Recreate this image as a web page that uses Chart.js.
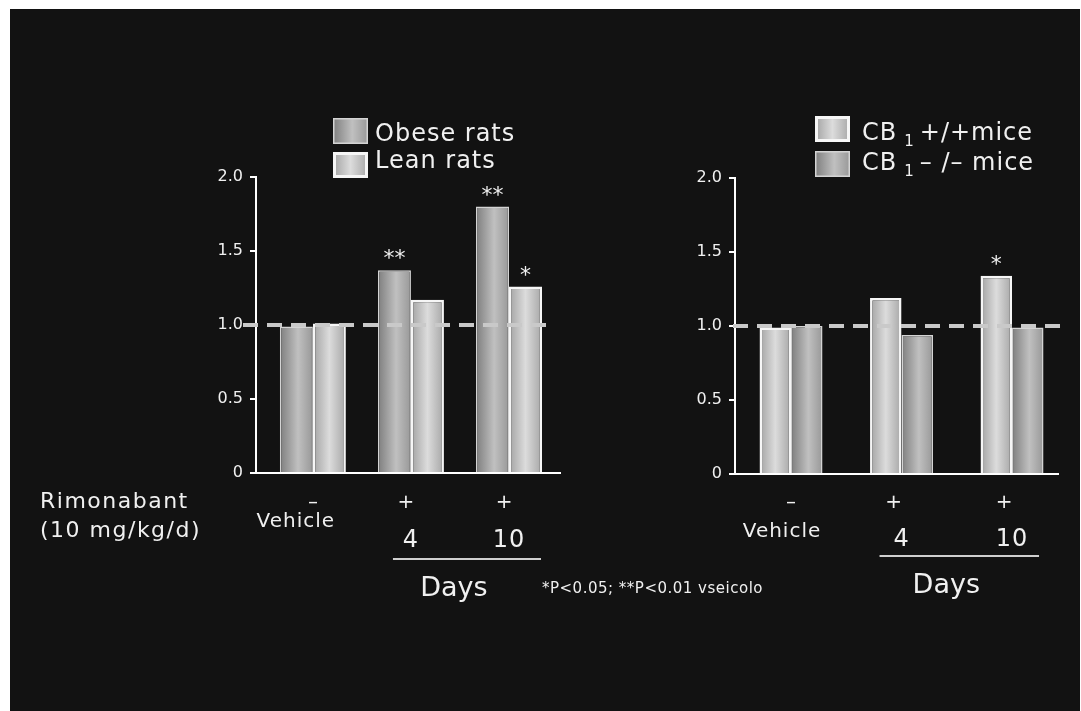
<!DOCTYPE html>
<html>
<head>
<meta charset="utf-8">
<script src="https://cdn.jsdelivr.net/npm/chart.js@4.4.1/dist/chart.umd.min.js"></script>
<style>
  html, body { margin: 0; padding: 0; width: 1081px; height: 711px; overflow: hidden; background: #ffffff; }
  #panel { position: absolute; left: 10px; top: 9px; width: 1070px; height: 702px; background: #121212; }
  canvas { position: absolute; }
  #ratsChart { left: 10px; top: 9px; width: 560px; height: 702px; }
  #miceChart { left: 540px; top: 9px; width: 540px; height: 702px; }
</style>
</head>
<body>
<div id="panel"></div>
<canvas id="ratsChart" width="560" height="702"></canvas>
<canvas id="miceChart" width="540" height="702"></canvas>
<script>
// ---- data ----
const doseMarks = ['–', '+', '+'];
const groupLabels = ['Vehicle', '4', '10'];
const yTickLabels = ['0', '0.5', '1.0', '1.5', '2.0'];
const referenceRatio = 1.0;

const ratSeries = ['Obese rats', 'Lean rats'];
const obeseRats = [0.99, 1.37, 1.80];
const leanRats = [1.01, 1.17, 1.26];
const obeseSig = ['', '**', '**'];
const leanSig = ['', '', '*'];

const mouseSeries = [['CB', '1', '+/+mice'], ['CB', '1', '– /– mice']];
const cb1WildType = [0.99, 1.19, 1.34];
const cb1Knockout = [1.00, 0.94, 0.99];
const wildTypeSig = ['', '', '*'];
const knockoutSig = ['', '', ''];

const treatmentTitle = ['Rimonabant', '(10 mg/kg/d)'];
const durationTitle = 'Days';
const footnote = '*P<0.05; **P<0.01 vseicolo';

// ---- look ----
const FONT = '"DejaVu Sans", "Liberation Sans", sans-serif';
const INK = '#f0f0f0';
const DARK = { stops: [[0, '#7e7e7e'], [0.55, '#c0c0c0'], [1, '#989898']], edge: '#d4d4d4', edgeWidth: 1.5, legendEdge: 1.5 };
const LIGHT = { stops: [[0, '#a2a2a2'], [0.5, '#dcdcdc'], [1, '#a6a6a6']], edge: '#f6f6f6', edgeWidth: 2.5, legendEdge: 3 };

function shade(ctx, x0, x1, stops) {
  const g = ctx.createLinearGradient(x0, 0, x1, 0);
  stops.forEach(([o, c]) => g.addColorStop(o, c));
  return g;
}

// cylinder-like horizontal shading across each bar
function barFill(tone) {
  return (c) => {
    const el = c.chart.getDatasetMeta(c.datasetIndex).data[c.dataIndex];
    if (!el || !Number.isFinite(el.x) || !Number.isFinite(el.width)) return tone.stops[1][1];
    return shade(c.chart.ctx, el.x - el.width / 2, el.x + el.width / 2, tone.stops);
  };
}

const panelDecor = {
  id: 'panelDecor',
  afterDatasetsDraw(chart, args, o) {
    const { ctx, chartArea: a, scales: { y } } = chart;
    const yRef = y.getPixelForValue(referenceRatio);
    ctx.save();
    ctx.strokeStyle = '#c9c9c9';
    ctx.lineWidth = 4;
    ctx.setLineDash([15, 9]);
    ctx.beginPath();
    ctx.moveTo(a.left + o.refFrom, yRef);
    ctx.lineTo(a.right + o.refTo, yRef);
    ctx.stroke();
    ctx.restore();

    ctx.save();
    ctx.fillStyle = INK;
    ctx.font = `22px ${FONT}`;
    ctx.textAlign = 'center';
    ctx.textBaseline = 'alphabetic';
    chart.data.datasets.forEach((ds, di) => {
      chart.getDatasetMeta(di).data.forEach((el, i) => {
        if (ds.sig[i]) ctx.fillText(ds.sig[i], el.x, el.y - 5);
      });
    });
    ctx.restore();
  },
  afterDraw(chart, args, o) {
    const { ctx, chartArea: a, scales: { x } } = chart;
    const cx = (i) => x.getPixelForValue(i + 1);
    ctx.save();
    ctx.fillStyle = INK;

    // legend
    chart.data.datasets.forEach((ds, k) => {
      const bx = a.left + o.legendDx, by = a.top + o.legendDy[k];
      const w = 35, h = 26, lw = ds.tone.legendEdge;
      ctx.fillStyle = shade(ctx, bx, bx + w, ds.tone.stops);
      ctx.fillRect(bx, by, w, h);
      ctx.strokeStyle = ds.tone.edge;
      ctx.lineWidth = lw;
      ctx.strokeRect(bx + lw / 2, by + lw / 2, w - lw, h - lw);
      ctx.fillStyle = INK;
      ctx.textAlign = 'left';
      ctx.textBaseline = 'alphabetic';
      ctx.letterSpacing = '1px';
      const tx = a.left + o.legendTextDx, ty = a.top + o.legendBase[k];
      const [main, sub, rest] = ds.parts;
      ctx.font = `24px ${FONT}`;
      ctx.fillText(main, tx, ty);
      let px = tx + ctx.measureText(main).width;
      if (sub) {
        ctx.font = `15px ${FONT}`;
        ctx.fillText(sub, px + 7, ty + 6);
        px += 7 + ctx.measureText(sub).width + 5;
        ctx.font = `24px ${FONT}`;
        ctx.fillText(rest, px, ty);
      }
      ctx.letterSpacing = '0px';
    });

    // treatment row under the axis
    const b = a.bottom;
    ctx.fillStyle = INK;
    ctx.textAlign = 'center';
    ctx.textBaseline = 'middle';
    ctx.font = `20px ${FONT}`;
    doseMarks.forEach((m, i) => ctx.fillText(m, cx(i) + (i ? o.plusDx : 0), b + o.markDy));

    ctx.textBaseline = 'alphabetic';
    ctx.letterSpacing = '1px';
    ctx.font = `20px ${FONT}`;
    ctx.fillText(groupLabels[0], cx(0) + o.vehicleDx, b + o.vehicleDy);
    ctx.font = `24px ${FONT}`;
    ctx.fillText(groupLabels[1], cx(1), b + o.numberDy);
    ctx.fillText(groupLabels[2], cx(2), b + o.numberDy);
    ctx.letterSpacing = '0px';

    const r0 = cx(1) + o.ruleFrom, r1 = cx(2) + o.ruleTo;
    ctx.strokeStyle = '#cfcfcf';
    ctx.lineWidth = 2;
    ctx.beginPath();
    ctx.moveTo(r0, b + o.ruleDy);
    ctx.lineTo(r1, b + o.ruleDy);
    ctx.stroke();

    ctx.font = `27px ${FONT}`;
    ctx.fillText(durationTitle, (r0 + r1) / 2 - 13, b + o.daysDy);

    // free-standing notes
    ctx.textAlign = 'left';
    if (o.treatment) {
      ctx.font = `22px ${FONT}`;
      ctx.letterSpacing = '1.5px';
      treatmentTitle.forEach((t, i) => ctx.fillText(t, o.treatment.x, o.treatment.y[i]));
      ctx.letterSpacing = '0px';
    }
    if (o.note) {
      ctx.font = `15px ${FONT}`;
      ctx.letterSpacing = '0.5px';
      ctx.fillText(footnote, o.note.x, o.note.y);
      ctx.letterSpacing = '0px';
    }
    ctx.restore();
  }
};

function makePanel(canvasId, cfg) {
  const chart = new Chart(document.getElementById(canvasId), {
    type: 'bar',
    data: {
      datasets: cfg.series.map((s) => ({
        label: s.parts.join(' '),
        parts: s.parts,
        tone: s.tone,
        sig: s.sig,
        data: s.values.map((v, i) => ({ x: i + 1, y: v })),
        backgroundColor: barFill(s.tone),
        borderColor: s.tone.edge,
        borderWidth: s.tone.edgeWidth,
        borderSkipped: 'start',
        categoryPercentage: cfg.groupFill,
        barPercentage: 1
      }))
    },
    options: {
      responsive: false,
      animation: false,
      devicePixelRatio: 1,
      layout: { padding: cfg.padding },
      plugins: {
        legend: { display: false },
        tooltip: { enabled: false },
        panelDecor: cfg.decor
      },
      scales: {
        x: {
          type: 'linear',
          offset: false,
          min: cfg.xMin,
          max: cfg.xMax,
          grid: { display: false, drawTicks: false, offset: false },
          ticks: { display: false },
          border: { color: '#ffffff', width: 2 },
          // one tick per treatment group, so bar widths follow the group spacing
          afterBuildTicks(s) { s.ticks = groupLabels.map((_, i) => ({ value: i + 1 })); },
          afterFit(s) { s.height = 0; }
        },
        y: {
          min: 0,
          max: 2,
          ticks: {
            stepSize: 0.5,
            color: INK,
            padding: 7,
            font: { family: FONT, size: 16 },
            callback: (v, i) => yTickLabels[i]
          },
          grid: { drawOnChartArea: false, drawTicks: true, tickLength: 6, color: '#ffffff', lineWidth: 2 },
          border: { color: '#ffffff', width: 2 },
          afterFit(s) { s.width = 50; }
        }
      }
    },
    plugins: [panelDecor]
  });
  chart.update();
  return chart;
}

makePanel('ratsChart', {
  series: [
    { parts: [ratSeries[0]], values: obeseRats, sig: obeseSig, tone: DARK },
    { parts: [ratSeries[1]], values: leanRats, sig: leanSig, tone: LIGHT }
  ],
  groupFill: 0.673,
  xMin: 0.42,
  xMax: 3.52,
  padding: { left: 196, right: 10, top: 168, bottom: 238 },
  decor: {
    refFrom: -13, refTo: -6,
    legendDx: 77, legendDy: [-59, -25], legendTextDx: 119, legendBase: [-36, -9],
    markDy: 30, plusDx: -5, vehicleDx: -17, vehicleDy: 54, numberDy: 74,
    ruleFrom: -18, ruleTo: 32, ruleDy: 86, daysDy: 123,
    treatment: { x: 30, y: [499, 528] }
  }
});

makePanel('miceChart', {
  series: [
    { parts: mouseSeries[0], values: cb1WildType, sig: wildTypeSig, tone: LIGHT },
    { parts: mouseSeries[1], values: cb1Knockout, sig: knockoutSig, tone: DARK }
  ],
  groupFill: 0.57,
  xMin: 0.493,
  xMax: 3.416,
  padding: { left: 145, right: 22, top: 169, bottom: 237 },
  decor: {
    refFrom: -2, refTo: 4,
    legendDx: 80, legendDy: [-62, -27], legendTextDx: 127, legendBase: [-38, -8],
    markDy: 29, plusDx: -8, vehicleDx: -9, vehicleDy: 63, numberDy: 72,
    ruleFrom: -22, ruleTo: 27, ruleDy: 82, daysDy: 119,
    note: { x: 2, y: 584 }
  }
});
</script>
</body>
</html>
